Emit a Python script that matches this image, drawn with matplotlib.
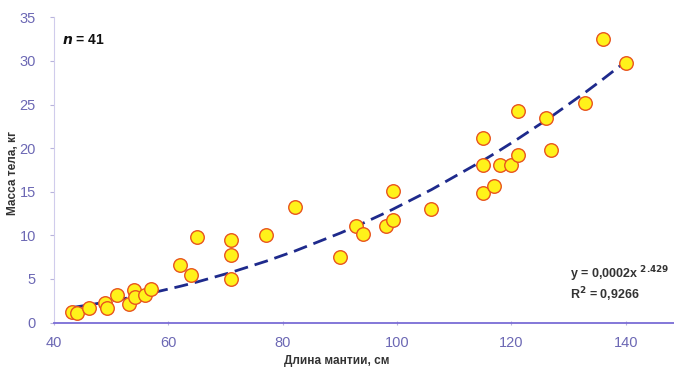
import numpy as np
import matplotlib
matplotlib.use("Agg")
import matplotlib.pyplot as plt

plt.rcParams['font.family'] = ['Liberation Sans', 'DejaVu Sans']

# mantle length, cm and body mass, kg
mantle_cm = [43.2, 44.0, 46.1, 49.0, 49.2, 51.1, 53.1, 54.0, 54.1, 56.0,
             57.0, 62.1, 63.9, 65.1, 71.0, 71.0, 71.0, 77.1, 82.1, 90.1,
             92.9, 94.0, 98.0, 99.2, 99.2, 106.0, 115.1, 115.1, 115.1, 117.0,
             118.0, 120.0, 121.1, 121.1, 126.1, 126.9, 132.9, 136.0, 140.0]
mass_kg = [1.15, 1.05, 1.7, 2.2, 1.7, 3.1, 2.1, 3.7, 2.9, 3.1,
           3.8, 6.6, 5.5, 9.8, 9.5, 7.7, 5.0, 10.0, 13.2, 7.55,
           11.05, 10.2, 11.05, 11.7, 15.1, 13.0, 21.2, 18.1, 14.8, 15.6,
           18.1, 18.1, 24.2, 19.2, 23.45, 19.75, 25.2, 32.5, 29.75]

# power trendline y = a * x^b (a shown rounded as 0,0002 on the chart)
coef_a = 0.0001834
coef_b = 2.429

xs = np.array(sorted(set(mantle_cm)))
trend = coef_a * xs ** coef_b

fig = plt.figure(figsize=(6.74, 3.72), dpi=100)
ax = fig.add_axes([0.080, 0.133, 0.925, 0.8205])

ax.scatter(mantle_cm, mass_kg, s=95, facecolor="#FFF21A", edgecolor="#E8541E",
           linewidth=1.0, zorder=3)
ax.plot(xs, trend, color="#1E2A8C", linewidth=2.0, linestyle=(0, (5, 2.5)), zorder=2)

ax.set_xlim(40, 149)
ax.set_ylim(0, 35)
ax.set_xticks([40, 60, 80, 100, 120, 140])
ax.set_yticks(range(0, 36, 5))

tick_col = "#6C68B4"
ax.tick_params(axis="both", colors="#B8B4DC", labelcolor=tick_col, labelsize=10.5,
               length=3, width=0.8)
ax.tick_params(axis="x", direction="inout", pad=8)
ax.tick_params(axis="y", direction="out", pad=10)

for side in ["top", "right"]:
    ax.spines[side].set_visible(False)
ax.spines["bottom"].set_color("#7A6CD6")
ax.spines["bottom"].set_linewidth(1.3)
ax.spines["left"].set_color("#D0CCEC")
ax.spines["left"].set_linewidth(0.8)

fig.text(0.5, 0.03, "Длина мантии, см", ha="center", va="center",
         fontsize=8.5, fontweight="bold", color="#333333")
fig.text(0.019, 0.535, "Масса тела, кг", ha="center", va="center", rotation=90,
         fontsize=8.5, fontweight="bold", color="#333333")

ax.text(0.013, 0.925, r"$\mathbfit{n}$ = 41", transform=ax.transAxes,
        fontsize=10, fontweight="bold", color="#111111", va="center")

ax.text(0.828, 0.157, r"y = 0,0002x $^{\mathbf{2.429}}$", transform=ax.transAxes,
        fontsize=9, fontweight="bold", color="#333333", va="center")
ax.text(0.828, 0.092, r"R$^{\mathbf{2}}$ = 0,9266", transform=ax.transAxes,
        fontsize=9, fontweight="bold", color="#333333", va="center")

fig.savefig("out.png", dpi=100)
